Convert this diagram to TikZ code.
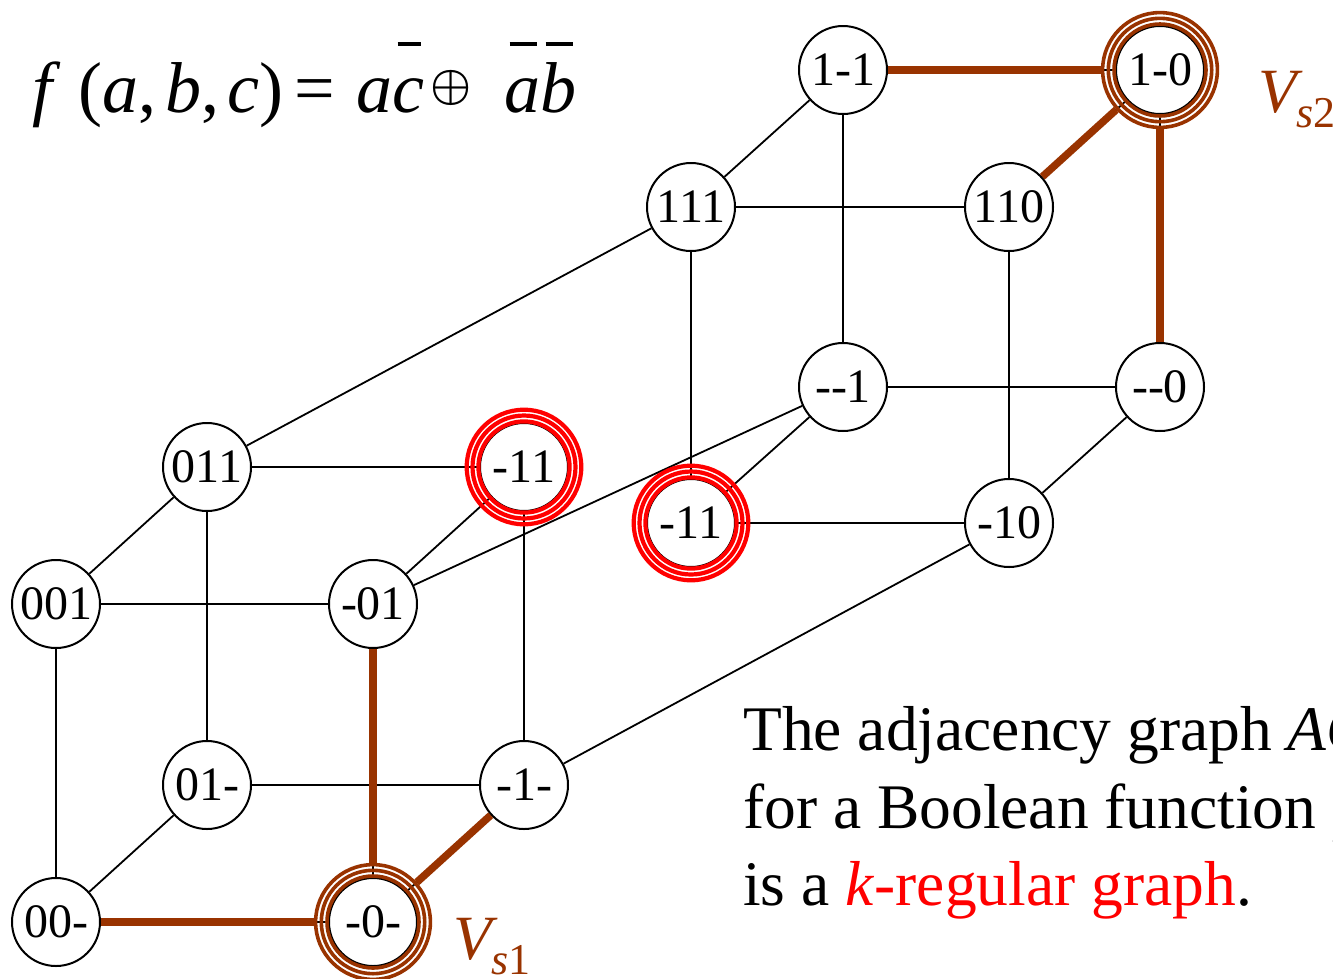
\documentclass[tikz,border=0pt]{standalone}
\usepackage{fontspec}
\setmainfont{Liberation Serif}
\definecolor{vbrown}{RGB}{153,51,0}
\definecolor{vred}{RGB}{255,0,0}
\newcommand\ovl[1]{\sbox0{#1}\rlap{\usebox0}\hspace{0.07em}\raisebox{0.92em}{\rule{\dimexpr\wd0-0.12em\relax}{0.055em}}\hspace{0.05em}}
\begin{document}
\begin{tikzpicture}[x=1pt,y=-1pt,
  vtx/.style={circle,draw,line width=2pt,fill=white,minimum size=88pt,inner sep=0pt,
    font=\fontsize{48}{52}\selectfont},
  outer/.style={circle,minimum size=118pt,inner sep=0pt},
  edge/.style={line width=1.8pt},
  hot/.style={line width=7.5pt,vbrown},
  brownring/.style={line width=3.6pt,vbrown},
  redring/.style={line width=4.2pt,vred},
  lbl/.style={anchor=base west,inner sep=0pt,text=vbrown,font=\fontsize{63}{70}\selectfont},
  txt/.style={anchor=base west,inner sep=0pt,font=\fontsize{63.5}{77}\selectfont},
]
\useasboundingbox (0,0) rectangle (1333,978);
\clip (0,0) rectangle (1333,978);
\fill[white] (0,0) rectangle (1333,978);

% vertices
\node[vtx] (v1m1) at (843,70) {1-1};
\node[vtx] (v1m0) at (1160,70) {1-0};
\node[vtx] (v111) at (691,207) {111};
\node[vtx] (v110) at (1009,207) {110};
\node[vtx] (vdd1) at (843,387) {-{}-1};
\node[vtx] (vdd0) at (1160,387) {-{}-0};
\node[vtx] (vm11r) at (691,523) {-11};
\node[vtx] (vm10) at (1009,523) {-10};
\node[vtx] (v011) at (207,467) {011};
\node[vtx] (vm11l) at (524,467) {-11};
\node[vtx] (v001) at (56,604) {001};
\node[vtx] (vm01) at (373,604) {-01};
\node[vtx] (v01m) at (207,785) {01-};
\node[vtx] (vm1m) at (524,785) {-1-};
\node[vtx] (v00m) at (56,922) {00-};
\node[vtx] (vm0m) at (373,922) {-0-};
\node[outer] (v1m0o) at (v1m0) {};
\node[outer] (vm0mo) at (vm0m) {};

% thin edges
\draw[edge] (v1m1) -- (v111);
\draw[edge] (v1m1) -- (vdd1);
\draw[edge] (v1m1) -- (v1m0);
\draw[edge] (v1m0) -- (v110);
\draw[edge] (v1m0) -- (vdd0);
\draw[edge] (v111) -- (v110);
\draw[edge] (v111) -- (vm11r);
\draw[edge] (v111) -- (v011);
\draw[edge] (v110) -- (vm10);
\draw[edge] (vdd1) -- (vdd0);
\draw[edge] (vdd1) -- (vm11r);
\draw[edge] (vdd1) -- (vm01);
\draw[edge] (vdd0) -- (vm10);
\draw[edge] (vm11r) -- (vm10);
\draw[edge] (vm10) -- (vm1m);
\draw[edge] (v011) -- (vm11l);
\draw[edge] (v011) -- (v001);
\draw[edge] (v011) -- (v01m);
\draw[edge] (vm11l) -- (vm01);
\draw[edge] (vm11l) -- (vm1m);
\draw[edge] (v001) -- (vm01);
\draw[edge] (v001) -- (v00m);
\draw[edge] (v01m) -- (vm1m);
\draw[edge] (v01m) -- (v00m);
\draw[edge] (vm01) -- (vm0m);
\draw[edge] (vm0m) -- (v00m);
\draw[edge] (vm0m) -- (vm1m);

% rings
\foreach \n in {v1m0,vm0m}{
  \foreach \r in {46,51.7,57.4}{\draw[brownring] (\n.center) circle (\r pt);}
}
\foreach \n in {vm11l,vm11r}{
  \foreach \r in {45.6,51.5,57.3}{\draw[redring] (\n.center) circle (\r pt);}
}

% thick brown edges
\draw[hot] (v1m1) -- (v1m0o);
\draw[hot] (v1m0o) -- (v110);
\draw[hot] (v1m0o) -- (vdd0);
\draw[hot] (vm01) -- (vm0mo);
\draw[hot] (vm0mo) -- (v00m);
\draw[hot] (vm0mo) -- (vm1m);

% labels
\node[lbl] (vs2) at (1258,112)
  {\textit{V}\hspace{-0.1em}\raisebox{-0.25em}{\fontsize{44}{50}\selectfont\textit{s}2}};
\node[lbl] (vs1) at (453,959)
  {\textit{V}\hspace{-0.1em}\raisebox{-0.25em}{\fontsize{44}{50}\selectfont\textit{s}1}};

\node[anchor=base west,inner sep=0pt,font=\fontsize{72}{80}\selectfont] (fml) at (32,112)
  {\textit{f}\hspace{0.25em}(\textit{a},\hspace{0.12em}\textit{b},\hspace{0.12em}\textit{c})\hspace{0.15em}=\hspace{0.3em}\textit{a}\ovl{\textit{c}}\hspace{0.08em}\raisebox{13pt}{\scalebox{1.85}{\boldmath$\oplus$}}\hspace{0.46em}\ovl{\textit{a}}\ovl{\textit{b}}};

\node[txt] (c1) at (743,750) {The adjacency graph \textit{AG}};
\node[txt] (c2) at (743,828) {for a Boolean function \textit{f}};
\node[txt] (c3) at (743,905) {is a \textcolor{vred}{\textit{k}-regular graph}.};
\end{tikzpicture}
\end{document}
